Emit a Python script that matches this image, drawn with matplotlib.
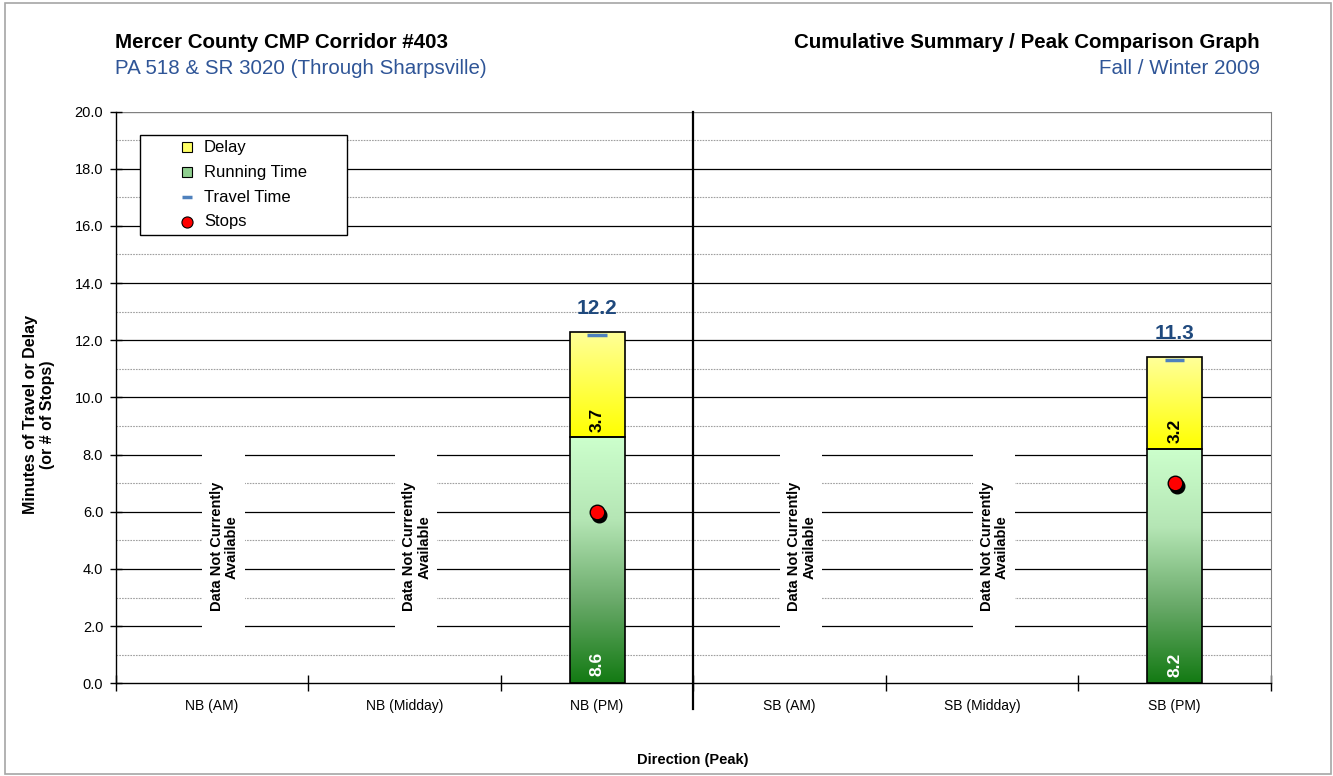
import numpy as np
import matplotlib
matplotlib.use("Agg")
import matplotlib.pyplot as plt
from matplotlib.patches import Rectangle
from matplotlib.lines import Line2D
from matplotlib.colors import LinearSegmentedColormap

plt.rcParams['font.family'] = ['Liberation Sans', 'DejaVu Sans']

categories = ["NB (AM)", "NB (Midday)", "NB (PM)", "SB (AM)", "SB (Midday)", "SB (PM)"]
running_time = [np.nan, np.nan, 8.6, np.nan, np.nan, 8.2]
delay = [np.nan, np.nan, 3.7, np.nan, np.nan, 3.2]
travel_time = [np.nan, np.nan, 12.2, np.nan, np.nan, 11.3]
stops = [np.nan, np.nan, 6.0, np.nan, np.nan, 7.0]
y_ticks = [0, 2, 4, 6, 8, 10, 12, 14, 16, 18, 20]
legend_labels = ["Delay", "Running Time", "Travel Time", "Stops"]

W, H = 1333, 776
fig = plt.figure(figsize=(W / 100, H / 100), dpi=100)


def fx(px):
    return px / W


def fy(py):
    return 1 - py / H


fig.patches.append(Rectangle((fx(5), fy(774)), fx(1331) - fx(5), fy(3) - fy(774), transform=fig.transFigure,
                             fill=False, edgecolor='#a6a6a6', lw=1.2, zorder=-1))

AX_L, AX_R, AX_T, AX_B = 115.7, 1271, 111.5, 683.3
ax = fig.add_axes([fx(AX_L), fy(AX_B), (AX_R - AX_L) / W, (AX_B - AX_T) / H])
n = len(categories)
x = np.arange(n)
ax.set_xlim(-0.5, n - 0.5)
ax.set_ylim(0, 20)

# grid
for v in np.arange(1, 20, 2):
    ax.axhline(v, color='#a0a0a0', lw=0.8, ls=(0, (1.5, 1)), zorder=0)
for v in y_ticks[1:-1]:
    ax.axhline(v, color='black', lw=0.9, zorder=0)
ax.axhline(20, color='#808080', lw=1.0, zorder=0)

ax.spines['top'].set_visible(False)
ax.spines['right'].set_color('#808080')
ax.spines['left'].set_linewidth(1.0)
ax.spines['bottom'].set_linewidth(1.0)

ax.set_yticks(y_ticks)
ax.set_yticklabels([f"{v:.1f}" for v in y_ticks], fontsize=10.5)
ax.tick_params(axis='y', direction='inout', length=8, width=1, pad=5)
ax.set_xticks(x)
ax.set_xticklabels(categories, fontsize=10)
ax.tick_params(axis='x', which='major', length=0, pad=11)
ax.set_xticks(np.arange(-0.5, n, 1.0), minor=True)
ax.tick_params(axis='x', which='minor', direction='inout', length=12, width=1)

# divider between directions
ax.plot([2.5, 2.5], [20, -0.9], color='black', lw=1.6, clip_on=False, zorder=3)

green = LinearSegmentedColormap.from_list('g', ['#137a13', '#6aaa6a', '#b5e6b5', '#ccffcc'])
yellow = LinearSegmentedColormap.from_list('y', ['#ffff00', '#ffff99'])
bw = 0.285
grad = np.linspace(0, 1, 256).reshape(-1, 1)

for i in range(n):
    if np.isnan(running_time[i]):
        ax.add_patch(Rectangle((x[i] - 0.05, 1.9), 0.22, 6.2, facecolor='white', edgecolor='none', zorder=1))
        ax.text(x[i] + 0.063, 4.78, "Data Not Currently\nAvailable", rotation=90, ha='center', va='center',
                fontsize=10.5, fontweight='bold', linespacing=1.1, zorder=4)
        continue
    r = running_time[i]
    d = delay[i]
    x0 = x[i] - bw / 2
    im = ax.imshow(grad, cmap=green, extent=[x0, x0 + bw, 0, r], origin='lower', aspect='auto', zorder=2)
    rect = Rectangle((x0, 0), bw, r, facecolor='none', edgecolor='black', lw=1.2, zorder=3)
    ax.add_patch(rect)
    im.set_clip_path(rect)
    im2 = ax.imshow(grad, cmap=yellow, extent=[x0, x0 + bw, r, r + d], origin='lower', aspect='auto', zorder=2)
    rect2 = Rectangle((x0, r), bw, d, facecolor='none', edgecolor='black', lw=1.2, zorder=3)
    ax.add_patch(rect2)
    im2.set_clip_path(rect2)
    ax.text(x[i], 0.66, f"{r:.1f}", rotation=90, ha='center', va='center', color='white',
            fontsize=12.5, fontweight='bold', zorder=5)
    ax.text(x[i], r + 0.62, f"{d:.1f}", rotation=90, ha='center', va='center', color='black',
            fontsize=12.5, fontweight='bold', zorder=5)
    # travel time marker
    ax.plot([x[i] - 0.05, x[i] + 0.05], [travel_time[i], travel_time[i]], color='#4f81bd', lw=2.5,
            solid_capstyle='butt', zorder=6)
    ax.text(x[i], travel_time[i] + 0.92, f"{travel_time[i]:.1f}", ha='center', va='center',
            color='#1f497d', fontsize=15, fontweight='bold', zorder=6)
    # stops with shadow
    ax.plot(x[i] + 0.012, stops[i] - 0.1, 'o', color='black', ms=10.5, zorder=6)
    ax.plot(x[i], stops[i], 'o', color='#ff0000', mec='black', mew=1, ms=10.5, zorder=7)

fig.text(fx(693), fy(760), "Direction (Peak)", fontsize=10.5, fontweight='bold', ha='center', va='center')
fig.text(fx(39), fy(415), "Minutes of Travel or Delay\n(or # of Stops)", fontsize=11.5, fontweight='bold',
         rotation=90, ha='center', va='center', linespacing=1.15)

# legend (drawn manually to match the boxed layout)
fig.patches.append(Rectangle((fx(139.5), fy(234.5)), fx(347.5) - fx(139.5), fy(134.5) - fy(234.5),
                             transform=fig.transFigure, facecolor='white', edgecolor='black', lw=1.0, zorder=8))
rows = [147.3, 172.3, 197.3, 221.7]
hx = 186.7
fig.lines.append(Line2D([fx(hx)], [fy(rows[0])], marker='s', ls='none', mfc='#ffff66', mec='black', mew=0.8,
                        ms=7.2, transform=fig.transFigure, zorder=9))
fig.lines.append(Line2D([fx(hx)], [fy(rows[1])], marker='s', ls='none', mfc='#8fcf8f', mec='black', mew=0.8,
                        ms=7.2, transform=fig.transFigure, zorder=9))
fig.lines.append(Line2D([fx(hx - 5), fx(hx + 5)], [fy(rows[2])] * 2, color='#4f81bd', lw=2.5,
                        solid_capstyle='butt', transform=fig.transFigure, zorder=9))
fig.lines.append(Line2D([fx(hx)], [fy(rows[3])], marker='o', ls='none', mfc='#ff0000', mec='black', mew=0.8,
                        ms=8, transform=fig.transFigure, zorder=9))
for lab, ry in zip(legend_labels, rows):
    fig.text(fx(204), fy(ry), lab, fontsize=12, ha='left', va='center', zorder=10)

fig.text(fx(115), fy(43), "Mercer County CMP Corridor #403", fontsize=14.8, fontweight='bold',
         ha='left', va='center')
fig.text(fx(115), fy(68), "PA 518 & SR 3020 (Through Sharpsville)", fontsize=14.8, color='#2f5597',
         ha='left', va='center')
fig.text(fx(1260), fy(43), "Cumulative Summary / Peak Comparison Graph", fontsize=14.8,
         fontweight='bold', ha='right', va='center')
fig.text(fx(1260), fy(68), "Fall / Winter 2009", fontsize=14.8, color='#2f5597',
         ha='right', va='center')

fig.savefig("out.png", dpi=100)
